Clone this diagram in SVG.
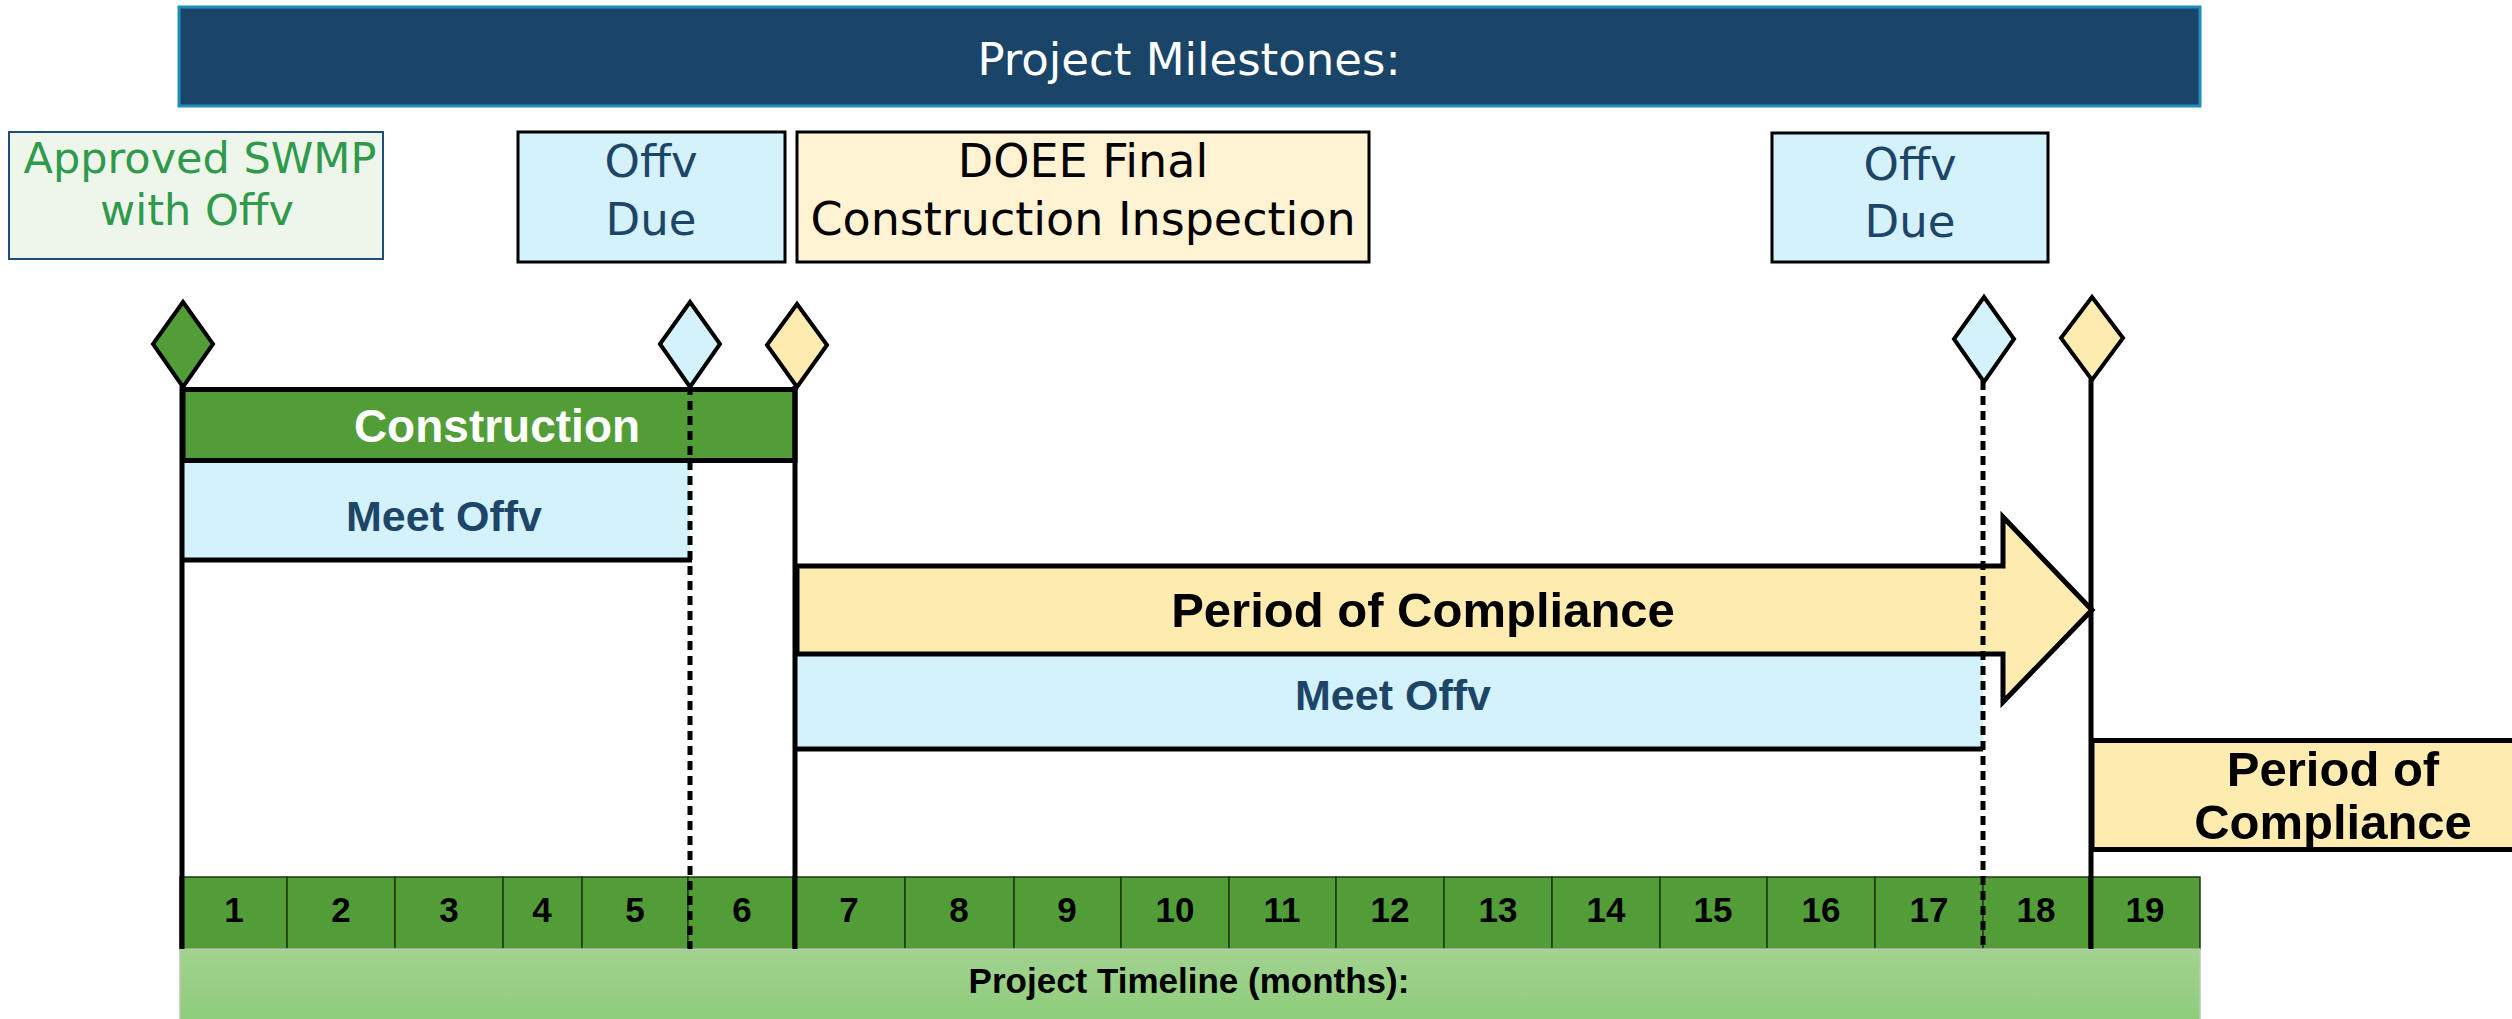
<svg xmlns="http://www.w3.org/2000/svg" width="2512" height="1019" viewBox="0 0 2512 1019">
<defs>
<linearGradient id="tl" x1="0" y1="0" x2="0" y2="1">
<stop offset="0" stop-color="#a2d290"/>
<stop offset="1" stop-color="#8ccd79"/>
</linearGradient>
</defs>
<style>
.ln{stroke:#000;stroke-width:5;fill:none}
.dash{stroke:#000;stroke-width:5;fill:none;stroke-dasharray:9 6}
.dia{stroke:#000;stroke-width:4}
.t{font-family:"DejaVu Sans",sans-serif;text-anchor:middle}
.b{font-family:"Liberation Sans",Arial,sans-serif;font-weight:bold;text-anchor:middle}
.cell{fill:#529d38;stroke:#1d3a12;stroke-width:1.5}
.num{font-family:"Liberation Sans",Arial,sans-serif;font-weight:bold;font-size:35px;text-anchor:middle;fill:#000}
</style>
<rect width="2512" height="1019" fill="#fff"/>

<g id="banner">
<rect x="179" y="7" width="2021" height="99" fill="#1b4568" stroke="#1c8fbc" stroke-width="3"/>
<text class="t" x="1189" y="75" font-size="45" fill="#fff">Project Milestones:</text>
</g>

<g id="box-approved">
<rect x="9" y="132" width="374" height="127" fill="#eef5ea" stroke="#1f4e79" stroke-width="2"/>
<text class="t" x="200" y="173" font-size="43" fill="#2f9a4c">Approved SWMP</text>
<text class="t" x="197" y="225" font-size="43" fill="#2f9a4c">with Offv</text>
</g>

<g id="box-offv1">
<rect x="518" y="132" width="267" height="130" fill="#d3f2fb" stroke="#000" stroke-width="3"/>
<text class="t" x="651" y="177" font-size="45" fill="#1d4568">Offv</text>
<text class="t" x="651" y="235" font-size="45" fill="#1d4568">Due</text>
</g>

<g id="box-doee">
<rect x="797" y="132" width="572" height="130" fill="#fff3d3" stroke="#000" stroke-width="3"/>
<text class="t" x="1083" y="177" font-size="46" fill="#000">DOEE Final</text>
<text class="t" x="1083" y="235" font-size="46" fill="#000">Construction Inspection</text>
</g>

<g id="box-offv2">
<rect x="1772" y="133" width="276" height="129" fill="#d3f2fb" stroke="#000" stroke-width="3"/>
<text class="t" x="1910" y="180" font-size="45" fill="#1d4568">Offv</text>
<text class="t" x="1910" y="237" font-size="45" fill="#1d4568">Due</text>
</g>

<g id="timeline-cells">
<rect class="cell" x="180" y="877" width="107" height="72"/>
<rect class="cell" x="287" y="877" width="108" height="72"/>
<rect class="cell" x="395" y="877" width="108" height="72"/>
<rect class="cell" x="503" y="877" width="79" height="72"/>
<rect class="cell" x="582" y="877" width="106" height="72"/>
<rect class="cell" x="688" y="877" width="105" height="72"/>
<rect class="cell" x="793" y="877" width="112" height="72"/>
<rect class="cell" x="905" y="877" width="109" height="72"/>
<rect class="cell" x="1014" y="877" width="107" height="72"/>
<rect class="cell" x="1121" y="877" width="108" height="72"/>
<rect class="cell" x="1229" y="877" width="107" height="72"/>
<rect class="cell" x="1336" y="877" width="108" height="72"/>
<rect class="cell" x="1444" y="877" width="108" height="72"/>
<rect class="cell" x="1552" y="877" width="108" height="72"/>
<rect class="cell" x="1660" y="877" width="107" height="72"/>
<rect class="cell" x="1767" y="877" width="108" height="72"/>
<rect class="cell" x="1875" y="877" width="108" height="72"/>
<rect class="cell" x="1983" y="877" width="106" height="72"/>
<rect class="cell" x="2089" y="877" width="111" height="72"/>
<text class="num" x="234" y="922">1</text>
<text class="num" x="341" y="922">2</text>
<text class="num" x="449" y="922">3</text>
<text class="num" x="542" y="922">4</text>
<text class="num" x="635" y="922">5</text>
<text class="num" x="742" y="922">6</text>
<text class="num" x="849" y="922">7</text>
<text class="num" x="959" y="922">8</text>
<text class="num" x="1067" y="922">9</text>
<text class="num" x="1175" y="922">10</text>
<text class="num" x="1282" y="922">11</text>
<text class="num" x="1390" y="922">12</text>
<text class="num" x="1498" y="922">13</text>
<text class="num" x="1606" y="922">14</text>
<text class="num" x="1713" y="922">15</text>
<text class="num" x="1821" y="922">16</text>
<text class="num" x="1929" y="922">17</text>
<text class="num" x="2036" y="922">18</text>
<text class="num" x="2145" y="922">19</text>
</g>

<g id="timeline-bar">
<rect x="180" y="949" width="2020" height="75" fill="url(#tl)" stroke="#b9c9b3" stroke-width="1.5"/>
<text class="b" x="1189" y="993" font-size="35" fill="#000">Project Timeline (months):</text>
</g>

<g id="construction">
<rect x="183" y="389.5" width="612" height="71" fill="#529d38" stroke="#000" stroke-width="5"/>
<text class="b" x="497" y="442" font-size="46" fill="#fff">Construction</text>
</g>

<g id="meet-offv-1">
<rect x="183" y="463" width="507" height="97" fill="#d3f2fb"/>
<line class="ln" x1="183" y1="560" x2="692" y2="560"/>
<text class="b" x="444" y="531" font-size="43" fill="#1d4568">Meet Offv</text>
</g>

<g id="meet-offv-2">
<rect x="795" y="656" width="1188" height="93" fill="#d3f2fb"/>
<line class="ln" x1="795" y1="749" x2="1983" y2="749"/>
<text class="b" x="1393" y="710" font-size="43" fill="#1d4568">Meet Offv</text>
</g>

<g id="compliance-arrow">
<polygon points="797,566 2003,566 2003,517 2092,610 2003,702 2003,654 797,654" fill="#feebb0" stroke="#000" stroke-width="5"/>
<text class="b" x="1423" y="627" font-size="49" fill="#000">Period of Compliance</text>
</g>

<g id="compliance-box">
<rect x="2092" y="740.5" width="440" height="109" fill="#feebb0" stroke="#000" stroke-width="5"/>
<text class="b" x="2333" y="786" font-size="49" fill="#000">Period of</text>
<text class="b" x="2333" y="839" font-size="49" fill="#000">Compliance</text>
</g>

<g id="connectors">
<line class="ln" x1="182" y1="386" x2="182" y2="949"/>
<line class="dash" x1="690" y1="386" x2="690" y2="949"/>
<line class="ln" x1="795" y1="386" x2="795" y2="949"/>
<line class="dash" x1="1983" y1="381" x2="1983" y2="949"/>
<line class="ln" x1="2091" y1="379" x2="2091" y2="949"/>
</g>

<g id="diamonds">
<polygon class="dia" points="183,302 213,344 183,387 153,344" fill="#529d38"/>
<polygon class="dia" points="690,302 720,344 690,387 660,344" fill="#d3f2fb"/>
<polygon class="dia" points="797,304 827,345 797,387 767,345" fill="#feebb0"/>
<polygon class="dia" points="1984,297 2014,339 1984,382 1954,339" fill="#d3f2fb"/>
<polygon class="dia" points="2092,297 2123,338 2092,380 2061,338" fill="#feebb0"/>
</g>
</svg>
